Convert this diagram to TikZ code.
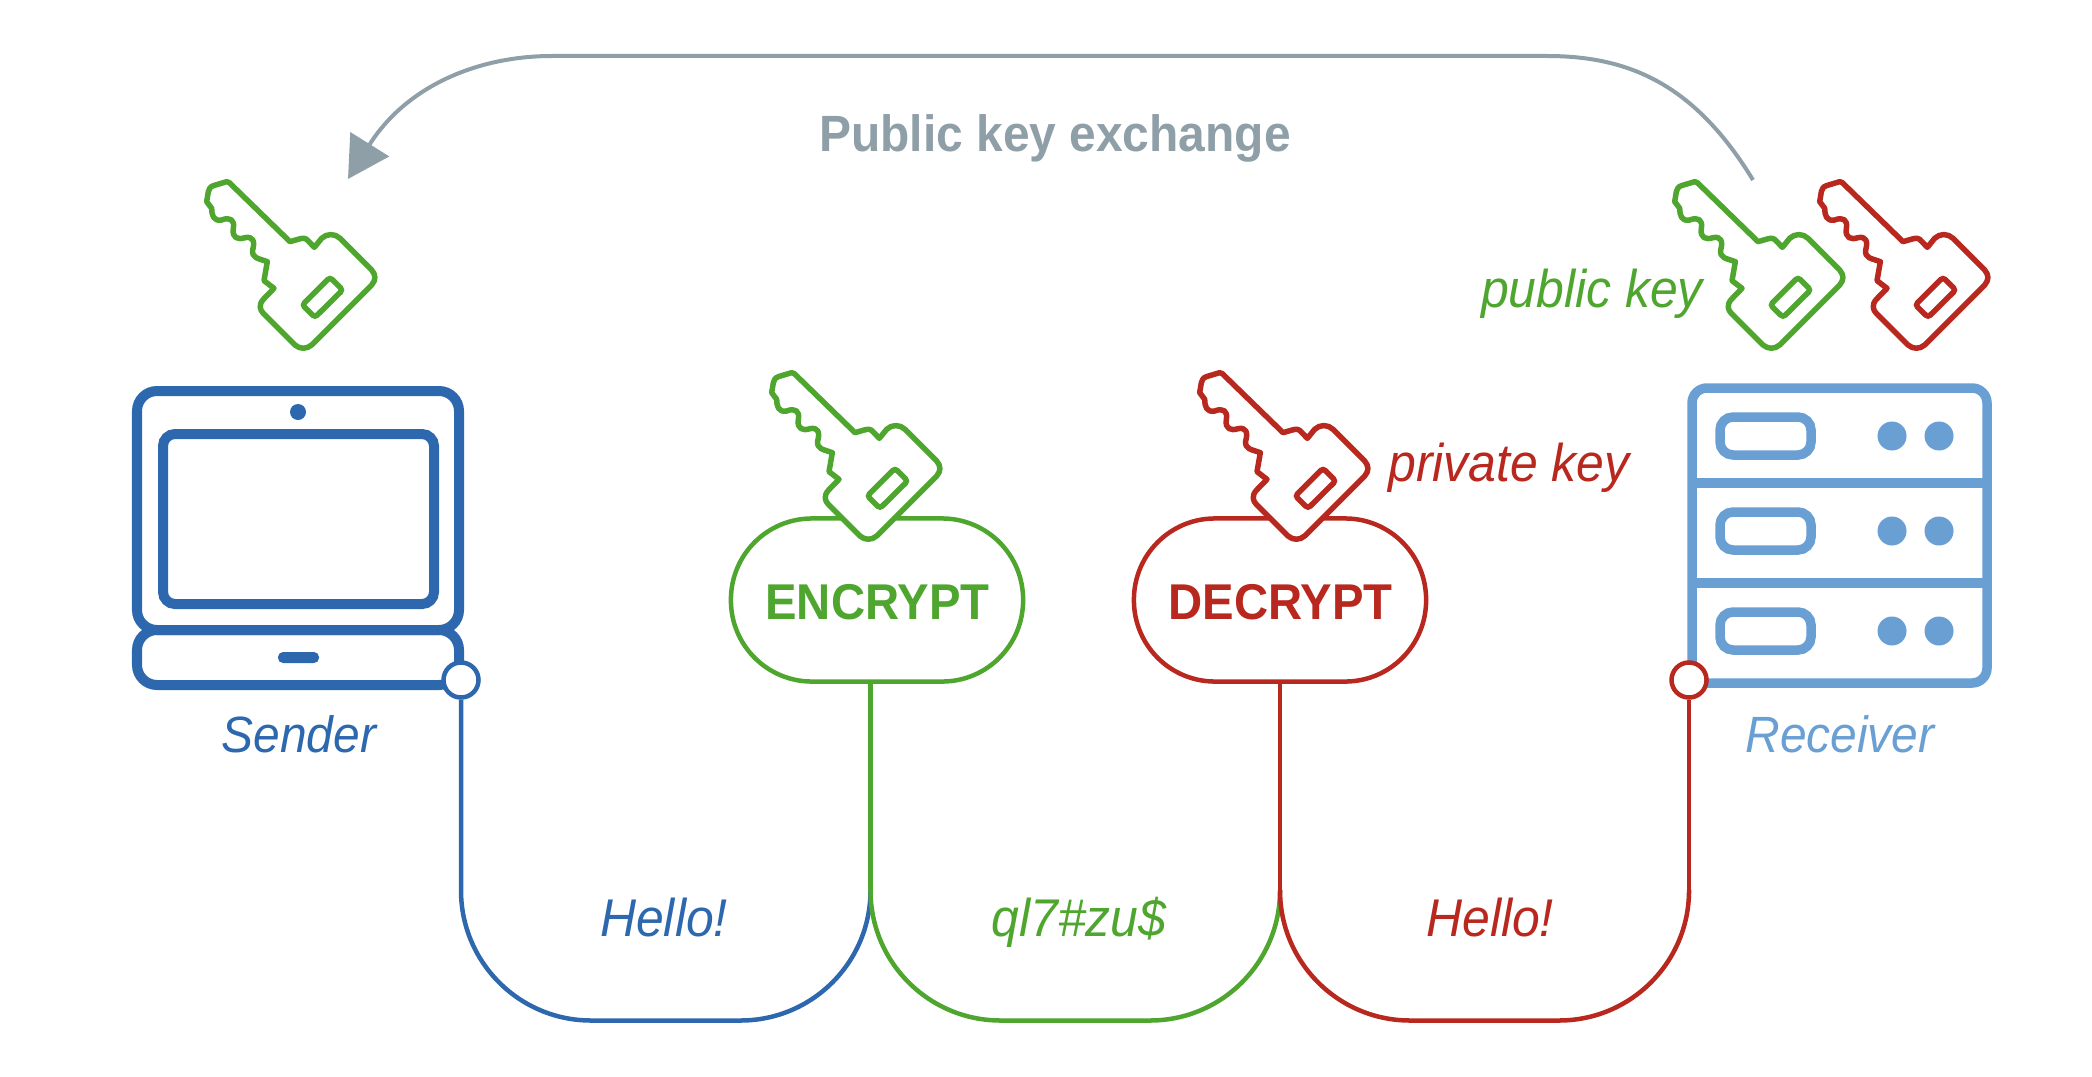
\documentclass[tikz,border=0pt]{standalone}
\usepackage{fontspec}
\setmainfont{Liberation Sans}[FakeStretch=0.94]
\usetikzlibrary{arrows.meta}

\definecolor{senderblue}{HTML}{2D68AF}
\definecolor{receiverblue}{HTML}{6A9FD4}
\definecolor{keygreen}{HTML}{4FA62E}
\definecolor{keyred}{HTML}{B8281F}
\definecolor{exchgray}{HTML}{8F9FA8}

\newcommand{\pxfont}[1]{\fontsize{#1}{#1}\selectfont}

\tikzset{
	device/.style={line width=0.1cm, rounded corners=0.2cm},
	wire/.style={line width=0.045cm, rounded corners=1.3cm},
	joint/.style={circle, fill=white, line width=0.045cm, minimum size=0.35cm, inner sep=0pt},
	pill/.style={fill=white, line width=0.045cm, rounded corners=0.81cm, minimum width=2.92cm, minimum height=1.63cm},
	pilltext/.style={font=\pxfont{14.3}\bfseries, inner sep=0pt, anchor=base},
	caption/.style={font=\pxfont{15.1}\itshape, inner sep=0pt, anchor=base},
	devlabel/.style={font=\pxfont{14.5}\itshape, inner sep=0pt, anchor=base},
	keyicon/.pic={
		\draw[pic actions, line width=0.055cm, line join=round]
			(140,65) -- (100,77) .. controls (90,80) and (87,88) .. (85,95) -- (80,125) -- (95,145)
			.. controls (95,165) and (100,185) .. (125,180) .. controls (150,170) and (165,180) .. (160,205)
			.. controls (155,235) and (175,240) .. (195,233) .. controls (220,228) and (225,245) .. (218,270)
			.. controls (215,295) and (235,295) .. (262,305) -- (252,362) -- (282,385) -- (250,418)
			.. controls (235,435) and (240,450) .. (250,460) -- (345,555) .. controls (360,568) and (380,568) .. (395,555)
			-- (575,375) .. controls (588,360) and (588,345) .. (575,330) -- (480,235)
			.. controls (465,220) and (440,220) .. (425,235) -- (403,262) -- (380,238)
			.. controls (370,232) and (365,235) .. (330,245) -- (148,68) -- cycle;
		\draw[pic actions, fill=none, line width=0.055cm, rounded corners=0.03cm]
			(367,435) -- (450,352) -- (488,390) -- (405,472) -- cycle;
	},
}

\begin{document}
\begin{tikzpicture}[x=0.01cm, y=-0.01cm]
	\useasboundingbox (0,0) rectangle (2092,1076);

	% laptop
	\draw[senderblue, device] (137,391) rectangle (459,630);
	\draw[senderblue, device] (137,630) rectangle (459,685);
	\draw[senderblue, device, rounded corners=0.12cm] (163,434) rectangle (434,604);
	\fill[senderblue] (298,412) circle (8);
	\fill[senderblue, rounded corners=0.05cm] (278,652) rectangle (319,663);

	% server
	\draw[receiverblue, line width=0.095cm, rounded corners=0.15cm] (1692,388) rectangle (1987,683);
	\draw[receiverblue, line width=0.095cm] (1692,483) -- (1987,483);
	\draw[receiverblue, line width=0.095cm] (1692,583) -- (1987,583);
	\foreach \y in {436,531,631} {
		\draw[receiverblue, line width=0.095cm, rounded corners=0.13cm] (1720,\y-19) rectangle (1811,\y+19);
		\fill[receiverblue] (1892,\y) circle (14.5);
		\fill[receiverblue] (1939,\y) circle (14.5);
	}

	% wires
	\node[pill, draw=keygreen] (encrypt) at (877,600) {};
	\node[pill, draw=keyred] (decrypt) at (1280,600) {};
	\node[joint, draw=senderblue] (sendjoint) at (461,680) {};
	\node[joint, draw=keyred] (recvjoint) at (1689,680) {};
	\coordinate (encfoot) at (870.5,890);
	\coordinate (decfoot) at (1280,890);
	\coordinate (recvfoot) at (1689,890);
	\coordinate (lowline) at (1075,1020.5);
	\draw[senderblue, wire] (sendjoint) -- (sendjoint |- lowline) -- (encfoot |- lowline) -- (encfoot);
	\draw[keygreen, wire] (encfoot) -- (encfoot |- lowline) -- (decfoot |- lowline) -- (decfoot);
	\draw[keyred, wire] (decfoot) -- (decfoot |- lowline) -- (recvfoot |- lowline) -- (recvfoot);
	\draw[keygreen, line width=0.045cm] (encrypt.south -| encfoot) -- (encfoot);
	\draw[keyred, line width=0.045cm] (decrypt.south -| decfoot) -- (decfoot);
	\draw[keyred, line width=0.045cm] (recvjoint) -- (recvfoot);

	% keys
	\pic[draw=keygreen, fill=white, scale=0.3333] at (180,160) {keyicon};
	\pic[draw=keygreen, fill=white, scale=0.3333] at (745,351) {keyicon};
	\pic[draw=keyred, fill=white, scale=0.3333] at (1173,351) {keyicon};
	\pic[draw=keyred, fill=white, scale=0.3333] at (1793,160) {keyicon};
	\pic[draw=keygreen, fill=white, scale=0.3333] at (1648,160) {keyicon};

	% key exchange
	\coordinate (exchstart) at (1753,180);
	\coordinate (exchend) at (348,179);
	\draw[exchgray, line width=0.04cm, -{Triangle[length=0.41cm, width=0.45cm]}]
		(exchstart) .. controls (1695,85) and (1630,56) .. (1547,56) -- (552,56)
		.. controls (475,56) and (405,88) .. (exchend);

	% labels
	\node[pilltext, keygreen] (enctext) at (877.5,619) {ENCRYPT};
	\node[pilltext, keyred] (dectext) at (1280.5,619) {DECRYPT};
	\node[font=\pxfont{14.5}\bfseries, inner sep=0pt, anchor=base, exchgray] (exchlabel) at (1055,152) {Public key exchange};
	\node[devlabel, senderblue] (sendlabel) at (299,752.5) {Sender};
	\node[devlabel, receiverblue] (recvlabel) at (1840,752.5) {Receiver};
	\node[caption, keygreen] (publabel) at (1592,307) {public key};
	\node[caption, keyred] (privlabel) at (1509,481.5) {private key};
	\node[caption, senderblue] (hellosend) at (664,936) {Hello!};
	\node[caption, keygreen] (cipher) at (1079,936) {ql7\#zu\$};
	\node[caption, keyred] (helloread) at (1490,936) {Hello!};
\end{tikzpicture}
\end{document}
